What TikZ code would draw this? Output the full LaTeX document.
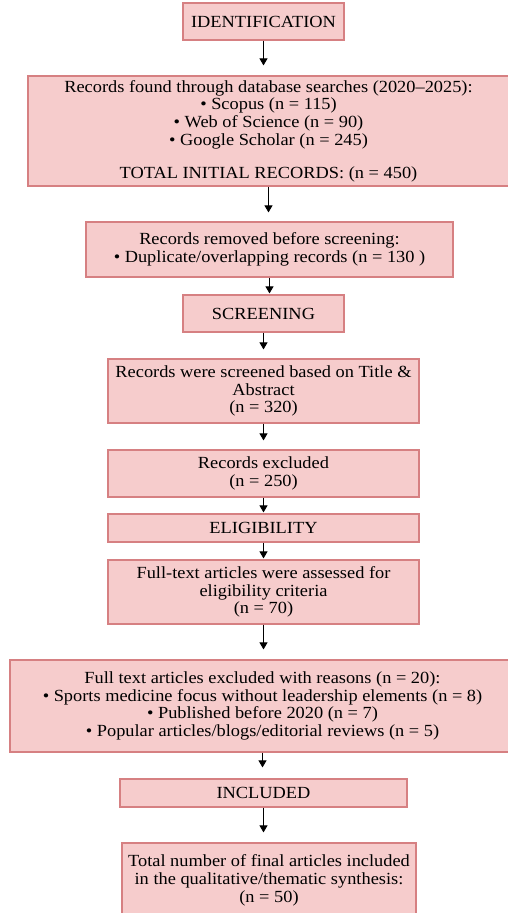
\documentclass[tikz,border=0pt]{standalone}
\usepackage{fontspec}
\setmainfont[FakeStretch=1.08]{Liberation Serif}
\usepackage{xcolor}
\usetikzlibrary{arrows.meta}
\definecolor{boxfill}{RGB}{246,204,204}
\definecolor{boxline}{RGB}{214,128,130}

\begin{document}
\begin{tikzpicture}[x=1pt,y=1pt,
      stage/.style={rectangle,draw=boxline,fill=boxfill,line width=1.2pt,inner sep=0pt,align=center,
        font=\fontsize{17}{17.7}\selectfont},
      arr/.style={-{Triangle[length=7pt,width=8pt]},line width=0.9pt}]
    \useasboundingbox (0,0) rectangle (508,-913);
    \node[stage,minimum width=161,minimum height=37] (ident) at (263.5,-21.5) {IDENTIFICATION};
    \node[stage,minimum width=481,minimum height=110] (found) at (268.5,-131) {Records found through database searches (2020–2025):\\
      • Scopus (n = 115)\\ • Web of Science (n = 90)\\ • Google Scholar (n = 245)\\[15pt] TOTAL INITIAL RECORDS: (n = 450)};
    \node[stage,minimum width=367,minimum height=55] (removed) at (269.5,-249.5) {Records removed before screening:\\ • Duplicate/overlapping records (n = 130 )};
    \node[stage,minimum width=161,minimum height=37] (screen) at (263.5,-313.5) {SCREENING};
    \node[stage,minimum width=311,minimum height=64] (screened) at (263.5,-391) {Records were screened based on Title \&\\ Abstract\\ (n = 320)};
    \node[stage,minimum width=311,minimum height=47] (excl) at (263.5,-473.5) {Records excluded\\ (n = 250)};
    \node[stage,minimum width=311,minimum height=28] (elig) at (263.5,-528) {ELIGIBILITY};
    \node[stage,minimum width=311,minimum height=64] (full) at (263.5,-592) {Full-text articles were assessed for\\ eligibility criteria\\ (n = 70)};
    \node[stage,minimum width=505,minimum height=92] (reasons) at (262.5,-706) {Full text articles excluded with reasons (n = 20):\\
      • Sports medicine focus without leadership elements (n = 8)\\ • Published before 2020 (n = 7)\\ • Popular articles/blogs/editorial reviews (n = 5)};
    \node[stage,minimum width=287,minimum height=28] (incl) at (263.5,-793) {INCLUDED};
    \node[stage,minimum width=294,minimum height=75] (final) at (269,-880.5) {Total number of final articles included\\ in the qualitative/thematic synthesis:\\ (n = 50)};
    \foreach \a/\b/\g in {ident/found/10,found/removed/9,removed/screen/1,screen/screened/9,screened/excl/9,
        excl/elig/1,elig/full/1,full/reasons/10,reasons/incl/11,incl/final/10}
      \draw[arr,shorten >=\g pt] (\a.south) -- (\a.south |- \b.north);
  \end{tikzpicture}
\end{document}
